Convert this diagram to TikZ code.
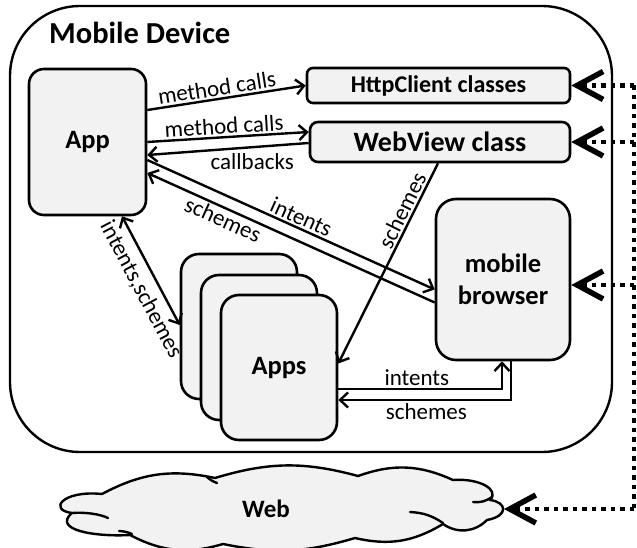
\documentclass[tikz,border=0pt]{standalone}
\usepackage{fontspec}
\setmainfont{Carlito}
\usetikzlibrary{arrows.meta,calc}
\definecolor{boxfill}{HTML}{F2F2F2}
\begin{document}
\begin{tikzpicture}[x=1pt,y=-1pt,
  box/.style={draw,line width=2.6pt,fill=boxfill,rounded corners=#1,inner sep=0pt,
    font=\bfseries\fontsize{26.5}{32}\selectfont,align=center},
  box/.default=15pt,
  arr/.style={line width=2.4pt,-{Straight Barb[length=8pt,width=15pt]}},
  biarr/.style={line width=2.4pt,{Straight Barb[length=8pt,width=15pt]}-{Straight Barb[length=8pt,width=15pt]}},
  lab/.style={font=\fontsize{23}{26}\selectfont,inner sep=2pt},
  dotline/.style={line width=4.5pt,dash pattern=on 4.5pt off 5pt},
  bigarr/.style={dotline,-{Straight Barb[length=26pt,width=28pt,line width=5.5pt]}},
  cloudline/.style={line width=2.4pt,line join=round,line cap=round}
]
\useasboundingbox (0,0) rectangle (637,548);

% device outline and title
\node[draw,line width=2.4pt,rounded corners=70pt,minimum width=602pt,minimum height=446pt,inner sep=0pt] (device) at (311,229) {};
\node[anchor=west,font=\bfseries\fontsize{30.5}{34}\selectfont,inner sep=0pt] (title) at (49,33) {Mobile Device};

% boxes
\node[box=15pt,minimum width=117pt,minimum height=146pt] (app) at (87.5,142) {App};
\node[box=6pt,minimum width=263pt,minimum height=35pt,font=\bfseries\fontsize{24}{28}\selectfont] (http) at (438.5,85.5) {HttpClient classes};
\node[box=8pt,minimum width=260pt,minimum height=40pt,font=\bfseries\fontsize{28}{32}\selectfont] (wv) at (440,142) {WebView class};
\node[box=20pt,minimum width=134pt,minimum height=161pt] (br) at (503,279.5) {mobile\\browser};
\node[box=18pt,minimum width=116pt,minimum height=145pt] (back) at (239,326.5) {};
\node[box=18pt,minimum width=116pt,minimum height=145pt] (mid) at (259,347.5) {};
\node[box=18pt,minimum width=116pt,minimum height=145pt] (front) at (279,367.5) {Apps};

% cloud
\filldraw[cloudline,fill=boxfill]
  (72,513) .. controls (48,510) and (62,490) .. (102,494)
  to[bend left=20] (215,478)
  to[bend left=16] (358,476)
  to[bend left=22] (453,480)
  .. controls (480,478) and (500,490) .. (490,500)
  .. controls (507,502) and (509,516) .. (487,520)
  to[bend left=40] (443,524)
  to[bend left=22] (355,538)
  to[bend left=14] (223,544)
  to[bend left=22] (130,535)
  .. controls (95,537) and (52,530) .. (72,513) -- cycle;
\draw[cloudline] (72,513) .. controls (85,512) and (100,514) .. (108,518);
\draw[cloudline] (119,531) to[bend left=10] (132,534);
\draw[cloudline] (207,477) to[bend right=10] (217,483);
\draw[cloudline] (473,502) to[bend right=20] (492,497);
\draw[cloudline] (410,512) to[bend left=15] (443,523);
\node[font=\bfseries\fontsize{25}{30}\selectfont] (webtext) at (266,509) {Web};
\coordinate (webtip) at (504,509);

% arrows inside device
\draw[arr] ([yshift=32pt]app.east) -- node[lab,above,sloped,pos=0.45]{method calls} (http.west);
\draw[arr] (app.east) -- node[lab,above,sloped,pos=0.48]{method calls} ([yshift=10pt]wv.west);
\draw[arr] ([yshift=-1pt]wv.west) -- node[lab,below=3pt,pos=0.35]{callbacks} ([yshift=-13pt]app.east);
\draw[arr] ([yshift=-18pt]app.east) -- node[lab,above,sloped,pos=0.52]{intents} ([yshift=-10pt]br.west);
\draw[arr] ([yshift=-23pt]br.west) -- node[lab,below,sloped,pos=0.72]{schemes} ([yshift=-31pt]app.east);
\draw[arr] ([xshift=-2pt]wv.south) -- node[lab,above,sloped,pos=0.26]{schemes} ([yshift=4pt]front.east);
\draw[biarr] ([xshift=34.5pt]app.south) -- node[lab,below=5pt,sloped,pos=0.6]{intents,schemes} ([yshift=1.5pt]back.west);
\draw[arr] ([yshift=-21.5pt]front.east) -| node[lab,above,pos=0.24]{intents} ([xshift=-1pt]br.south);
\draw[arr] ([xshift=8pt]br.south) |- node[lab,below,pos=0.745]{schemes} ([yshift=-32.5pt]front.east);

% dotted bus to the web
\coordinate (b1) at (634,85.5);
\coordinate (b2) at (634,142);
\coordinate (b3) at (634,285);
\coordinate (b4) at (634,509);
\draw[dotline] (b1) -- (b4);
\draw[bigarr] (b1) -- (http.east);
\draw[bigarr] (b2) -- (wv.east);
\draw[bigarr] (b3) -- ([yshift=-5.5pt]br.east);
\draw[bigarr] (b4) -- (webtip);
\end{tikzpicture}
\end{document}
